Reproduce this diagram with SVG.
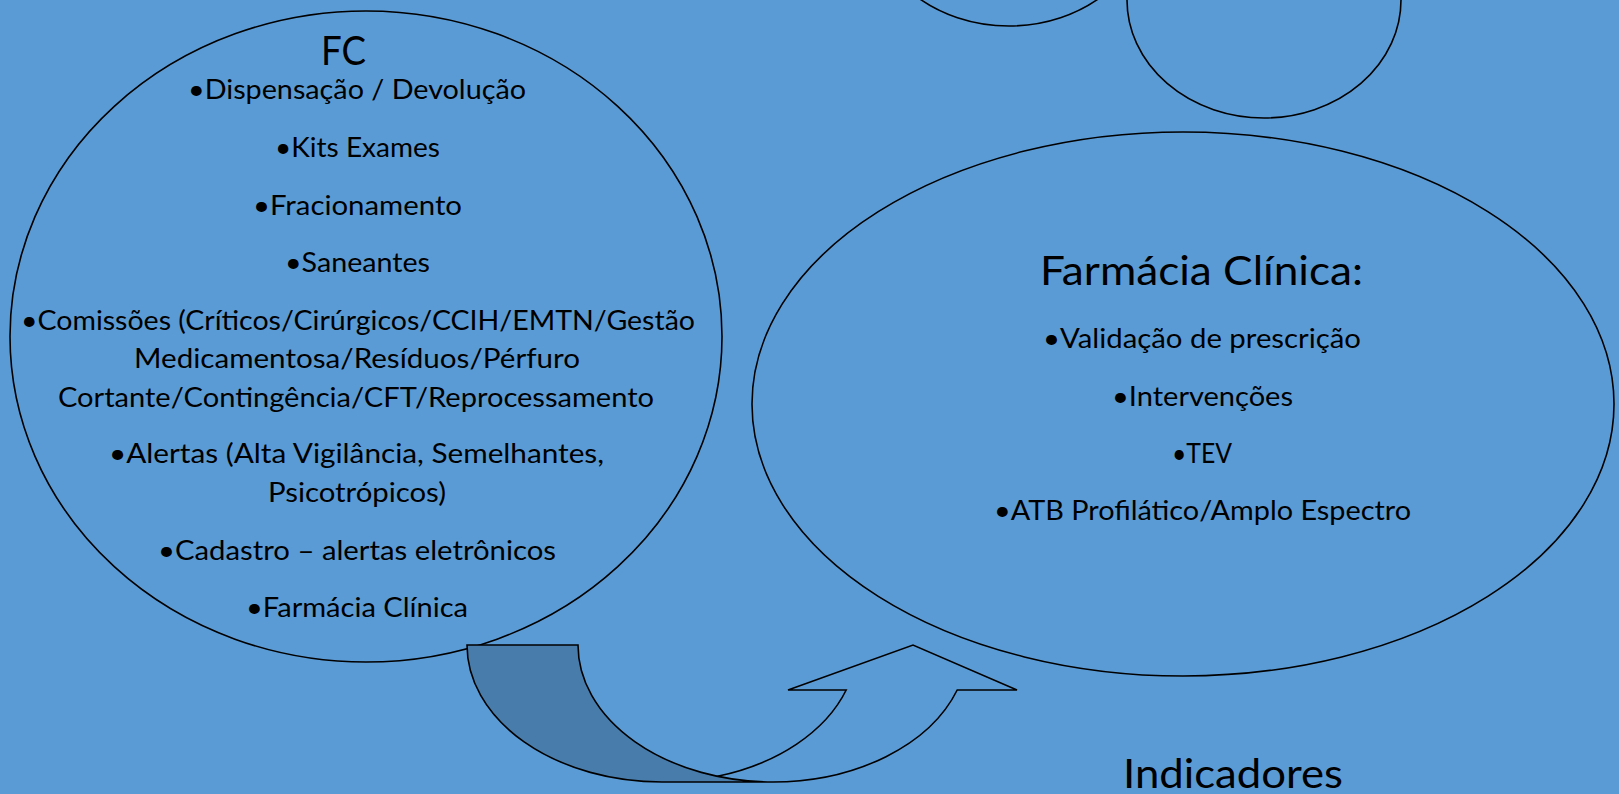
<svg xmlns="http://www.w3.org/2000/svg" width="1619" height="794" viewBox="0 0 1619 794">
<style>
.shape{fill:none;stroke:#000;stroke-width:1.6}
.t{font-family:Lato,"Liberation Sans",sans-serif;fill:#000;text-anchor:middle}
.b{font-size:26px}
.h{font-size:41px}
</style>
<rect width="1619" height="794" fill="#5B9BD5"/>
<g id="node-top-left">
<ellipse class="shape" cx="1009" cy="-92" rx="140" ry="118"/>
</g>
<g id="node-top-right">
<ellipse class="shape" cx="1264" cy="0" rx="137" ry="118"/>
</g>
<g id="node-fc">
<ellipse class="shape" cx="366" cy="336.5" rx="356" ry="325.5"/>
<text class="t h" x="343.5" y="65" textLength="45" lengthAdjust="spacingAndGlyphs">FC</text>
<text class="t b" x="357" y="99" textLength="338" lengthAdjust="spacingAndGlyphs">•Dispensação / Devolução</text>
<text class="t b" x="357.5" y="157" textLength="165" lengthAdjust="spacingAndGlyphs">•Kits Exames</text>
<text class="t b" x="357.5" y="215" textLength="209" lengthAdjust="spacingAndGlyphs">•Fracionamento</text>
<text class="t b" x="357.5" y="272" textLength="145" lengthAdjust="spacingAndGlyphs">•Saneantes</text>
<text class="t b" x="358" y="330" textLength="674" lengthAdjust="spacingAndGlyphs">•Comissões (Críticos/Cirúrgicos/CCIH/EMTN/Gestão</text>
<text class="t b" x="357" y="368" textLength="446" lengthAdjust="spacingAndGlyphs">Medicamentosa/Resíduos/Pérfuro</text>
<text class="t b" x="356" y="406.5" textLength="596" lengthAdjust="spacingAndGlyphs">Cortante/Contingência/CFT/Reprocessamento</text>
<text class="t b" x="356.5" y="463" textLength="495" lengthAdjust="spacingAndGlyphs">•Alertas (Alta Vigilância, Semelhantes,</text>
<text class="t b" x="357" y="501.5" textLength="178" lengthAdjust="spacingAndGlyphs">Psicotrópicos)</text>
<text class="t b" x="357" y="560" textLength="398" lengthAdjust="spacingAndGlyphs">•Cadastro – alertas eletrônicos</text>
<text class="t b" x="357" y="617" textLength="222" lengthAdjust="spacingAndGlyphs">•Farmácia Clínica</text>
</g>
<g id="node-farmacia-clinica">
<ellipse class="shape" cx="1183" cy="404" rx="431" ry="272"/>
<text class="t h" x="1201.5" y="285" textLength="323" lengthAdjust="spacingAndGlyphs">Farmácia Clínica:</text>
<text class="t b" x="1202" y="348" textLength="318" lengthAdjust="spacingAndGlyphs">•Validação de prescrição</text>
<text class="t b" x="1202.5" y="406" textLength="181" lengthAdjust="spacingAndGlyphs">•Intervenções</text>
<text class="t b" x="1202" y="463" textLength="60" lengthAdjust="spacingAndGlyphs">•TEV</text>
<text class="t b" x="1202.5" y="520" textLength="417" lengthAdjust="spacingAndGlyphs">•ATB Profilático/Amplo Espectro</text>
</g>
<g id="node-indicadores">
<text class="t h" x="1233" y="788" textLength="220" lengthAdjust="spacingAndGlyphs">Indicadores</text>
</g>
<g id="connectors">
<path class="shape" d="M717.5,776.3 A195,137 0 0 0 846.2,690 L788,690 L913,645 L1017,690 L957.2,690 A195,137 0 0 1 773,782"/>
<path class="shape" fill="#487CAB" style="fill:#487CAB" d="M467,645 L578,645 A195,137 0 0 0 773,782 L662,782 A195,137 0 0 1 467,645 Z"/>
</g>
</svg>
